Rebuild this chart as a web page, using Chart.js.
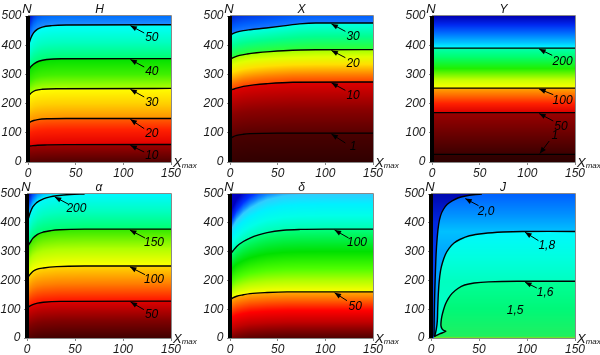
<!DOCTYPE html>
<html><head><meta charset="utf-8">
<script src="https://cdn.jsdelivr.net/npm/chart.js@4.4.1/dist/chart.umd.min.js"></script>
<style>
html,body{margin:0;padding:0;background:#fff;width:600px;height:355px;overflow:hidden}
.p{position:absolute}
canvas{display:block}
</style></head><body>
<div class="p" style="left:0;top:0"><canvas id="c0" width="200" height="178"></canvas></div>
<div class="p" style="left:200px;top:0"><canvas id="c1" width="200" height="178"></canvas></div>
<div class="p" style="left:400px;top:0"><canvas id="c2" width="200" height="178"></canvas></div>
<div class="p" style="left:0;top:177px"><canvas id="c3" width="200" height="178"></canvas></div>
<div class="p" style="left:200px;top:177px"><canvas id="c4" width="200" height="178"></canvas></div>
<div class="p" style="left:400px;top:177px"><canvas id="c5" width="200" height="178"></canvas></div>
<script>
// ---------- DATA ----------
const xTicks = [0, 50, 100, 150];
const nTicks = [0, 100, 200, 300, 400, 500];
const titles = ['H', 'X', 'Y', 'α', 'δ', 'J'];

// contour lines: [Xmax, N]
const hC10 = [[0,54],[5,56],[10,57.5],[20,58.5],[40,59.5],[150,60]];
const hC20 = [[0,132],[3,138],[6,142],[10,145],[20,148],[40,149],[150,149]];
const hC30 = [[0,222],[2,232],[4,238],[8,245],[15,249],[30,251],[150,252]];
const hC40 = [[0,308],[2,322],[4,330],[7,338],[12,346],[20,351],[35,353.5],[150,354]];
const hC50 = [[0,395],[1,405],[3,425],[6,443],[10,455],[15,462],[25,467],[40,469],[150,470]];

const xC1  = [[0,80],[3,86],[7,91],[14,95],[21,97],[50,99],[150,99]];
const xC10 = [[0,246],[5,251],[14,259],[25,264],[38,268],[66,273],[150,274]];
const xC20 = [[0,352],[4,358],[10,365],[18,370],[28,374],[42,378],[56,381],[90,384.5],[150,385]];
const xC30 = [[0,434],[3,440],[7,445],[14,450],[21,453],[38,459],[56,466],[73,473],[90,476],[150,476]];

const yC1   = [[0,26],[150,26]];
const yC50  = [[0,169],[150,169]];
const yC100 = [[0,253],[150,253]];
const yC200 = [[0,390],[150,390]];

const aC50  = [[0,103],[2,109],[6,116],[11,121],[17,124],[35,127],[150,128]];
const aC100 = [[0,203],[1.5,213],[3,220],[6,231],[10,238],[17,243],[31,248],[60,250],[150,250]];
const aC150 = [[0,312],[1.5,322],[3,330],[6,346],[11,360],[17,368],[25,373],[34,376],[60,378],[150,378]];
const aC200 = [[0,400],[1,410],[3,432],[6,455],[10,470],[17,483],[24,490],[31,494],[45,498.5],[60,500]];

const dC50  = [[0,132],[3,139],[7,145],[14,150],[21,154],[39,158],[60,160],[150,160]];
const dC100 = [[0,290],[3,302],[7,318],[14,335],[21,347],[30,358],[39,366],[56,374],[74,377],[100,378],[150,378]];

const jC20 = [[3.2,5],[3.3,60],[3.7,130],[4.3,200],[5.3,290],[6.5,350],[8,395],[10,425],[13,447],[17,464],[22,476],[28,486],[36,493],[44,497.5],[53,500]];
const jC18 = [[3.8,5],[5.5,30],[6.6,60],[7,103],[7.6,150],[8.5,195],[10,235],[12,262],[15,290],[19,312],[24,330],[30,342],[40,355],[55,363],[75,368],[95,370],[150,370]];
const jC16 = [[150,197],[90,197],[60,195],[45,191],[35,184],[28,172],[22,155],[18,137],[15,117],[13,97],[11.3,75],[10.5,57],[10.4,42],[11.5,32],[13.5,26],[15.4,23.5],[9,14],[3.5,5]];

// contour labels: text, label position, arrow tail, arrow tip (data units)
const hNotes = [
  {t:'50', at:[129.9,424.7], tail:[121.9,441.8], tip:[107.4,467]},
  {t:'40', at:[129.9,308.2], tail:[121.9,325.3], tip:[107.4,351]},
  {t:'30', at:[129.9,204.3], tail:[121.9,222.6], tip:[107.4,249]},
  {t:'20', at:[129.9,97],    tail:[121.9,114.2], tip:[107.4,146]},
  {t:'10', at:[129.9,22.8],  tail:[121.9,34.2],  tip:[107.4,57]}
];
const xNotes = [
  {t:'30', at:[129.1,428],   tail:[121,447.5], tip:[106.4,473]},
  {t:'20', at:[129.1,336.8], tail:[121,357.3], tip:[106.4,382]},
  {t:'10', at:[129.1,226],   tail:[121,245.4], tip:[106.4,271]},
  {t:'1',  at:[129.1,51.4],  tail:[121,65],    tip:[106.4,96]}
];
const yNotes = [
  {t:'200', at:[137,344.7], tail:[126.1,365.3], tip:[112.4,387]},
  {t:'100', at:[137,211.2], tail:[127.2,230.6], tip:[112.4,250]},
  {t:'50',  at:[135.2,122.1], tail:[127.2,140.4], tip:[112.4,166]},
  {t:'1',   at:[128.9,89],  tail:[123,72],      tip:[113.1,29]}
];
const aNotes = [
  {t:'200', at:[51.5,448],   tail:[42.8,465.3], tip:[28.9,490]},
  {t:'150', at:[132.3,332.2], tail:[122.9,347.2], tip:[107.2,375]},
  {t:'100', at:[132.3,202.5], tail:[122.9,219.9], tip:[107.2,247]},
  {t:'50',  at:[129.8,81],   tail:[121.8,98.4],  tip:[107.9,125]}
];
const dNotes = [
  {t:'100', at:[133.2,329.9], tail:[124.4,347.2], tip:[109.7,375]},
  {t:'50',  at:[131.4,110],   tail:[122.7,129.6], tip:[109.7,157]}
];
const jNotes = [
  {t:'2,0', at:[57.5,439.8], tail:[49.5,459.5], tip:[35.7,484]},
  {t:'1,8', at:[120.6,320.6], tail:[111.9,338], tip:[98,367]},
  {t:'1,6', at:[118.8,156.3], tail:[110.2,173.6], tip:[98,194]},
  {t:'1,5', at:[87.6,95]}
];

// colour ramps (value = equivalent N at the right edge)
const hStops = [[0,'#500000'],[30,'#780000'],[60,'#a00000'],[60,'#e00000'],[110,'#ff2000'],[149,'#ff6000'],[149,'#ff9000'],[200,'#ffd000'],[252,'#ffff00'],[252,'#b0ff00'],[300,'#40f000'],[354,'#00e000'],[354,'#00ff70'],[410,'#00ffc0'],[470,'#00ffff'],[470,'#2090ff'],[500,'#0070ff'],[540,'#0030e0'],[600,'#0000a0']];
const xStops = [[0,'#300000'],[99,'#4a0000'],[99,'#580000'],[180,'#8a0000'],[274,'#e00000'],[274,'#ff4000'],[300,'#ff8000'],[335,'#ffe000'],[360,'#e0ff00'],[385,'#a0ff00'],[385,'#30ff30'],[430,'#00ff90'],[476,'#00ffe8'],[476,'#1878ff'],[500,'#0060ff'],[540,'#0030e0'],[600,'#0000a0']];
const yStops = [[0,'#2c0000'],[26,'#340000'],[26,'#3c0000'],[169,'#9a0000'],[169,'#d80000'],[200,'#ff2000'],[230,'#ff7000'],[253,'#ffa800'],[253,'#ffff00'],[280,'#c8ff00'],[320,'#20f000'],[360,'#00ff70'],[390,'#00ffb0'],[390,'#00ffff'],[410,'#00c0ff'],[440,'#0070ff'],[470,'#0028f0'],[500,'#0000b0']];
const aStops = [[0,'#400000'],[60,'#800000'],[128,'#e00000'],[128,'#ff1000'],[190,'#ff8000'],[250,'#ffd800'],[250,'#ffff00'],[310,'#b0ff00'],[378,'#30e800'],[378,'#00ff70'],[440,'#00ffc0'],[500,'#00f8ff'],[520,'#00b0ff'],[545,'#0060ff'],[590,'#0010c0']];
const dStops = [[0,'#500000'],[25,'#800000'],[55,'#c00000'],[95,'#ff0000'],[130,'#ff6000'],[160,'#ffb000'],[160,'#ffff00'],[200,'#b0ff00'],[240,'#50ff00'],[300,'#00e000'],[378,'#00ff80'],[378,'#00ffb0'],[425,'#00ffe8'],[465,'#00f0ff'],[500,'#30ccff'],[520,'#1088ff'],[550,'#0030ff'],[600,'#0000c0']];
const jTopStops = [[0,'#0050ff'],[200,'#0048f8'],[400,'#0028e0'],[500,'#0008b0']];
const j20Stops  = [[0,'#0090ff'],[300,'#00a8ff'],[370,'#00c0ff'],[430,'#0090ff'],[500,'#0060ff']];
const j18Stops  = [[0,'#00ffd0'],[197,'#00ffc0'],[280,'#00ffe0'],[370,'#00f8ff']];
const j16Stops  = [[0,'#b0d800'],[2,'#60e830'],[6,'#20f060'],[100,'#00f878'],[197,'#00ff98']];

// ---------- helpers ----------
const FONT = "'Liberation Sans', Arial, sans-serif";
function hex(c){return [parseInt(c.substr(1,2),16),parseInt(c.substr(3,2),16),parseInt(c.substr(5,2),16)];}
function prep(st){return st.map(([v,c])=>[v,hex(c)]);}
function colorAt(st, v){
  if (v <= st[0][0]) return st[0][1];
  for (let i=1;i<st.length;i++){
    if (v < st[i][0]){
      const [a,ca]=st[i-1],[b,cb]=st[i]; const t=(v-a)/(b-a);
      return [ca[0]+(cb[0]-ca[0])*t, ca[1]+(cb[1]-ca[1])*t, ca[2]+(cb[2]-ca[2])*t];
    }
  }
  return st[st.length-1][1];
}
function interpC(p, x){
  if (x <= p[0][0]) return p[0][1];
  for (let i=1;i<p.length;i++) if (x <= p[i][0]){
    const [x0,y0]=p[i-1],[x1,y1]=p[i]; return y0+(y1-y0)*(x-x0)/(x1-x0);
  }
  return p[p.length-1][1];
}
// colour field warped along the contour lines; above the top line the field
// grows faster where that line has dropped (near Xmax = 0)
function warpField(contours, stops, gain){
  const st = prep(stops);
  const right = contours.map(c=>c[c.length-1][1]);
  return (x,N)=>{
    const cn = contours.map(c=>interpC(c,x)); const k=cn.length; let v;
    if (N <= cn[0]) v = right[0] + (N-cn[0]);
    else if (N >= cn[k-1]) v = right[k-1] + (N-cn[k-1])*(1+gain*(right[k-1]-cn[k-1])/100);
    else { for (let i=0;i<k-1;i++) if (N < cn[i+1]) { const t=(N-cn[i])/(cn[i+1]-cn[i]); v = right[i]+t*(right[i+1]-right[i]); break; } }
    return colorAt(st, v);
  };
}
function inPoly(poly,x,y){
  let c=false;
  for (let i=0,j=poly.length-1;i<poly.length;j=i++){
    const [xi,yi]=poly[i],[xj,yj]=poly[j];
    if (((yi>y)!==(yj>y)) && (x < (xj-xi)*(y-yi)/(yj-yi)+xi)) c=!c;
  }
  return c;
}
function jField(){
  const p16 = jC16.concat([[3.5,0],[150,0]]);
  const p18 = jC18.concat([[150,0],[3.8,0]]);
  const p20 = jC20.concat([[150,500],[150,0],[3.2,0]]);
  const sTop=prep(jTopStops), s20=prep(j20Stops), s18=prep(j18Stops), s16=prep(j16Stops);
  return (x,N)=>{
    if (inPoly(p16,x,N)) return colorAt(s16,N);
    if (inPoly(p18,x,N)) return colorAt(s18,N);
    if (inPoly(p20,x,N)) return colorAt(s20,N);
    return colorAt(sTop,N);
  };
}

const panels = [
  {L:28, R:171, T:16, B:162, draw:[hC10,hC20,hC30,hC40,hC50], field:warpField([hC10,hC20,hC30,hC40,hC50],hStops,0.5), notes:hNotes},
  {L:30, R:173, T:16, B:162, draw:[xC1,xC10,xC20,xC30], field:warpField([xC1,xC10,xC20,xC30],xStops,0.6), notes:xNotes},
  {L:32, R:175, T:16, B:162, draw:[yC1,yC50,yC100,yC200], field:warpField([yC1,yC50,yC100,yC200],yStops,0), notes:yNotes},
  {L:27, R:171, T:17, B:161, draw:[aC50,aC100,aC150,aC200], field:warpField([aC50,aC100,aC150],aStops,0.5), notes:aNotes},
  {L:30, R:173, T:17, B:161, draw:[dC50,dC100], field:warpField([dC50,dC100],dStops,0.6), notes:dNotes},
  {L:31, R:175, T:17, B:161, draw:[jC20,jC18,jC16], field:jField(), notes:jNotes, free:true}
];

function arrow(ctx,x1,y1,x2,y2){
  ctx.beginPath(); ctx.moveTo(x1,y1); ctx.lineTo(x2,y2); ctx.stroke();
  const a=Math.atan2(y2-y1,x2-x1), L=6.5, W=2.6;
  ctx.beginPath(); ctx.moveTo(x2,y2);
  ctx.lineTo(x2-L*Math.cos(a)+W*Math.sin(a), y2-L*Math.sin(a)-W*Math.cos(a));
  ctx.lineTo(x2-L*Math.cos(a)-W*Math.sin(a), y2-L*Math.sin(a)+W*Math.cos(a));
  ctx.closePath(); ctx.fill();
}

panels.forEach((P, idx)=>{
  const heat = {
    id:'heat'+idx,
    beforeDatasetsDraw(chart){
      const {ctx, chartArea:a, scales:{x:xs, y:ys}} = chart;
      const l=Math.round(a.left), t=Math.round(a.top);
      const w=Math.round(a.right)-l, h=Math.round(a.bottom)-t;
      const img = ctx.createImageData(w,h);
      for (let py=0;py<h;py++){
        const N = ys.getValueForPixel(t+py+0.5);
        for (let px=0;px<w;px++){
          const x = xs.getValueForPixel(l+px+0.5);
          const c = P.field(x,N); const k=(py*w+px)*4;
          img.data[k]=c[0]; img.data[k+1]=c[1]; img.data[k+2]=c[2]; img.data[k+3]=255;
        }
      }
      ctx.putImageData(img,l,t);
    }
  };
  const deco = {
    id:'deco'+idx,
    afterDatasetsDraw(chart){
      const {ctx, chartArea:a, scales:{x:xs, y:ys}} = chart;
      ctx.save();
      ctx.strokeStyle='#8a8a8a'; ctx.lineWidth=1;
      ctx.beginPath(); ctx.moveTo(a.left, a.top-0.5); ctx.lineTo(a.right+0.5, a.top-0.5); ctx.lineTo(a.right+0.5, a.bottom); ctx.stroke();
      const x0 = xs.getPixelForValue(0);
      ctx.fillStyle='#000'; ctx.fillRect(x0-2, a.top, 4, a.bottom-a.top);
      ctx.strokeStyle='#000'; ctx.fillStyle='#000'; ctx.lineWidth=1;
      ctx.font = 'italic 12px '+FONT; ctx.textAlign='center'; ctx.textBaseline='middle';
      P.notes.forEach(n=>{
        if (n.tip) arrow(ctx, xs.getPixelForValue(n.tail[0]), ys.getPixelForValue(n.tail[1]), xs.getPixelForValue(n.tip[0]), ys.getPixelForValue(n.tip[1]));
        ctx.fillText(n.t, xs.getPixelForValue(n.at[0]), ys.getPixelForValue(n.at[1]));
      });
      ctx.restore();
    },
    afterDraw(chart){
      const {ctx, chartArea:a} = chart;
      ctx.save(); ctx.fillStyle='#111'; ctx.textBaseline='alphabetic';
      ctx.font='italic 12px '+FONT; ctx.textAlign='center';
      ctx.fillText(titles[idx], (a.left+a.right)/2, a.top-3);
      ctx.font='italic 13px '+FONT;
      ctx.fillText('N', a.left-1, a.top-3);
      ctx.textAlign='left';
      ctx.fillText('X', a.right+2, a.bottom+5);
      const wX = ctx.measureText('X').width;
      ctx.font='italic 8px '+FONT;
      ctx.fillText('max', a.right+2+wX, a.bottom+6);
      ctx.restore();
    }
  };
  const tickFont = {family:FONT, style:'italic', size:12};
  new Chart(document.getElementById('c'+idx), {
    type:'scatter',
    data:{datasets: P.draw.map(c=>({
      data: c.map(([x,y])=>({x,y})),
      showLine:true, pointRadius:0, pointHoverRadius:0,
      borderColor:'#000', borderWidth:1.4, fill:false,
      cubicInterpolationMode: P.free ? 'default' : 'monotone',
      tension: P.free ? 0.3 : 0
    }))},
    options:{
      responsive:false, animation:false, devicePixelRatio:1, events:[],
      layout:{padding:{left:0, right:200-P.R, top:P.T, bottom:0}},
      plugins:{legend:{display:false}, tooltip:{enabled:false}},
      scales:{
        x:{type:'linear', min:0, max:150,
          afterBuildTicks(s){ s.ticks = xTicks.map(v=>({value:v})); },
          afterFit(s){ s.height = 178-P.B; },
          ticks:{font:tickFont, color:'#1a1a1a', padding:1, maxRotation:0, autoSkip:false},
          grid:{display:true, drawOnChartArea:false, drawTicks:true, tickLength:3, color:'#888'},
          border:{display:true, color:'#888'}},
        y:{type:'linear', min:0, max:500,
          afterBuildTicks(s){ s.ticks = nTicks.map(v=>({value:v})); },
          afterFit(s){ s.width = P.L; },
          ticks:{font:tickFont, color:'#1a1a1a', padding:3.5, autoSkip:false},
          grid:{display:true, drawOnChartArea:false, drawTicks:true, tickLength:3, color:'#888'},
          border:{display:true, color:'#888'}}
      }
    },
    plugins:[heat, deco]
  });
});
</script>
</body></html>
